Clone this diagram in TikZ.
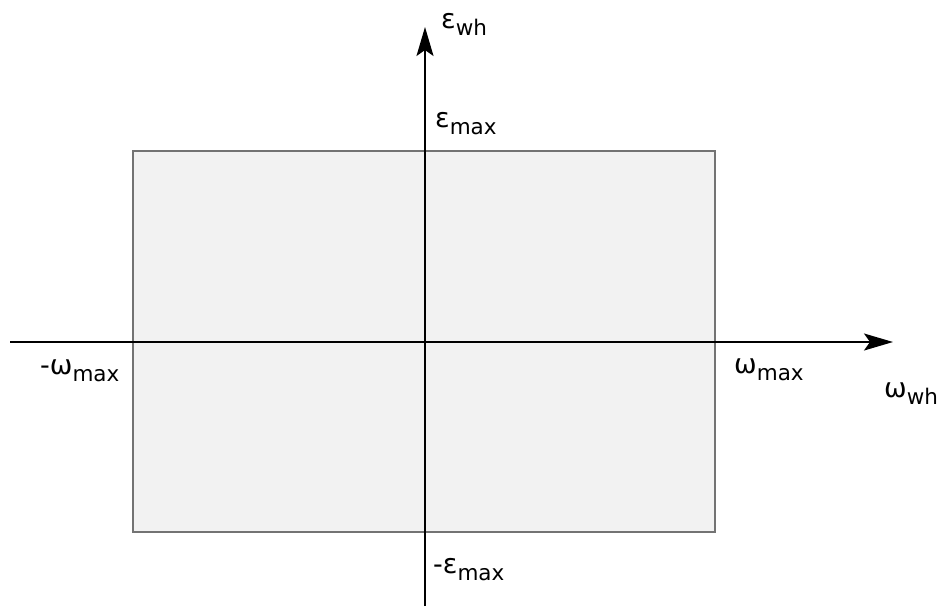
\documentclass[tikz,border=0pt]{standalone}
\usepackage{fontspec}
\setmainfont{DejaVu Sans}
\usetikzlibrary{arrows.meta}
% subscript set in a smaller size, lowered below the baseline
\newcommand{\lowsub}[1]{\raisebox{-7pt}{\fontsize{21.5pt}{21.5pt}\selectfont #1}}
\begin{document}
\begin{tikzpicture}[x=1pt,y=-1pt,
  axis/.style={line width=1.8pt,-{Stealth[length=29pt,width=17pt,inset=6pt]}},
  region/.style={fill=black!5,draw=black!55,line width=1.2pt},
  lbl/.style={anchor=base west,inner sep=0pt,font=\fontsize{27pt}{27pt}\selectfont}]
\useasboundingbox (0,0) rectangle (941,608);
% admissible operating region
\draw[region] (133,151) rectangle (715,532);
% axes
\coordinate (xs) at (10,342);
\coordinate (xe) at (893,342);
\coordinate (ys) at (425,606);
\coordinate (ye) at (425,27);
\draw[axis] (xs) -- (xe);
\draw[axis] (ys) -- (ye);
% labels
\node[lbl] (eps wh) at (441,28) {ε\lowsub{wh}};
\node[lbl] (eps max) at (435,127) {ε\lowsub{max}};
\node[lbl] (eps min) at (433,573) {-ε\lowsub{max}};
\node[lbl] (om wh) at (884,397) {ω\lowsub{wh}};
\node[lbl] (om max) at (734,373) {ω\lowsub{max}};
\node[lbl] (om min) at (40,374) {-ω\lowsub{max}};
\end{tikzpicture}
\end{document}
